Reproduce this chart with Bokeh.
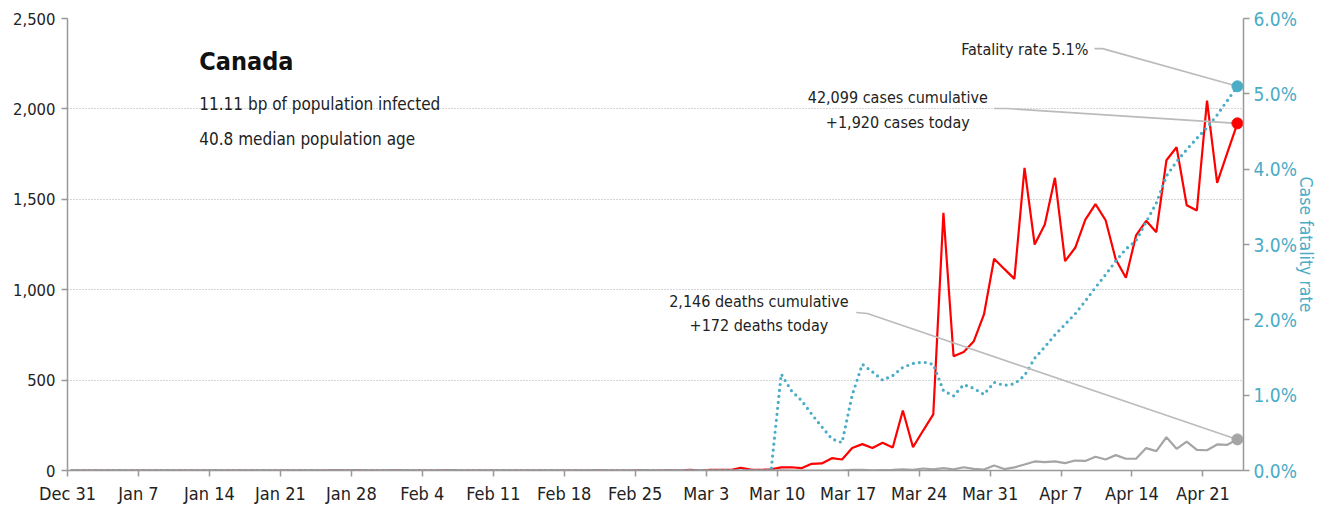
from bokeh.plotting import figure
from bokeh.models import Range1d, LinearAxis, FixedTicker, NumeralTickFormatter, PrintfTickFormatter
from bokeh.embed import file_html
from bokeh.resources import INLINE
from bokeh.core.properties import value

# ---------------- data ----------------
# day index 0 = Dec 31 2019 ... 115 = Apr 24 2020
days = list(range(116))
tick_days = [0, 7, 14, 21, 28, 35, 42, 49, 56, 63, 70, 77, 84, 91, 98, 105, 112]
tick_labels = ["Dec 31", "Jan 7", "Jan 14", "Jan 21", "Jan 28", "Feb 4", "Feb 11", "Feb 18",
               "Feb 25", "Mar 3", "Mar 10", "Mar 17", "Mar 24", "Mar 31", "Apr 7", "Apr 14", "Apr 21"]

daily_cases = [
    0, 0, 0, 0, 0, 0, 0, 0, 0, 0,
    0, 0, 0, 0, 0, 0, 0, 0, 0, 0,
    0, 0, 0, 0, 0, 0, 1, 0, 1, 0,
    0, 0, 1, 0, 0, 0, 0, 1, 0, 0,
    0, 0, 0, 0, 0, 0, 0, 0, 0, 0,
    0, 0, 1, 0, 0, 0, 1, 0, 0, 1,
    0, 4, 0, 3, 3, 3, 15, 5, 3, 6,
    17, 18, 13, 37, 39, 68, 61, 124, 146, 124,
    153, 127, 332, 129, 221, 310, 1425, 632, 656, 715,
    863, 1171, 1115, 1060, 1674, 1250, 1361, 1619, 1158, 1232,
    1388, 1473, 1384, 1167, 1066, 1300, 1381, 1318, 1716, 1788,
    1467, 1438, 2046, 1591, 1757, 1920,
]

daily_deaths = [0] * 70 + [
    1, 0, 0, 0, 0, 0, 0, 3, 4, 1,
    2, 3, 6, 4, 11, 6, 13, 6, 18, 9,
    5, 28, 8, 17, 33, 50, 46, 50, 41, 55,
    53, 76, 61, 85, 65, 65, 124, 107, 184, 120,
    160, 114, 112, 144, 142, 172,
]

cfr_pct = [0.0] * 70 + [
    1.28, 1.06, 0.93, 0.75, 0.58, 0.42, 0.37, 1.00, 1.41, 1.31,
    1.20, 1.26, 1.37, 1.42, 1.44, 1.41, 1.06, 0.99, 1.14, 1.09,
    1.01, 1.17, 1.13, 1.15, 1.26, 1.49, 1.64, 1.80, 1.94, 2.08,
    2.25, 2.43, 2.60, 2.78, 2.94, 3.05, 3.30, 3.55, 3.91, 4.10,
    4.26, 4.41, 4.55, 4.72, 4.91, 5.10,
]

title = "Canada"
subtitle_lines = ["11.11 bp of population infected", "40.8 median population age"]
cases_note = ["42,099 cases cumulative", "+1,920 cases today"]
deaths_note = ["2,146 deaths cumulative", "+172 deaths today"]
cfr_note = "Fatality rate 5.1%"
right_axis_title = "Case fatality rate"

# ---------------- style ----------------
FONT = "DejaVu Sans Condensed, DejaVu Sans, sans-serif"
RED = "#ff0000"
GRAY = "#a5a5a5"
TEAL = "#4bacc6"
AXIS = "#999999"
LEADER = "#bbbbbb"
X_OFFSET = 0.4  # points sit a little after the midnight tick

xs = [d + X_OFFSET for d in days]

p = figure(width=1323, height=507, output_backend="svg", toolbar_location=None,
           x_range=Range1d(0, 116), y_range=Range1d(0, 2500),
           min_border_left=67, min_border_right=80, min_border_top=18, min_border_bottom=37)
p.outline_line_color = None
p.background_fill_color = "white"
p.border_fill_color = "white"
p.extra_y_ranges = {"cfr": Range1d(0, 6)}

# axes
p.xaxis.ticker = FixedTicker(ticks=tick_days)
p.xaxis.major_label_overrides = {d: l for d, l in zip(tick_days, tick_labels)}
p.yaxis.ticker = FixedTicker(ticks=[0, 500, 1000, 1500, 2000, 2500])
p.yaxis.formatter = NumeralTickFormatter(format="0,0")
for ax in (p.xaxis[0], p.yaxis[0]):
    ax.axis_line_color = AXIS
    ax.axis_line_width = 1.5
    ax.major_tick_line_color = AXIS
    ax.major_tick_line_width = 1.5
    ax.major_tick_in = 0
    ax.major_tick_out = 6
    ax.minor_tick_line_color = None
    ax.major_label_text_font = FONT
    ax.major_label_text_color = "#222222"
p.xaxis.major_label_text_font_size = "18px"
p.yaxis.major_label_text_font_size = "16.5px"
p.xaxis.major_label_standoff = 6
p.yaxis.major_label_standoff = 6

rax = LinearAxis(y_range_name="cfr", ticker=FixedTicker(ticks=[0, 1, 2, 3, 4, 5, 6]),
                 formatter=PrintfTickFormatter(format="%.1f%%"),
                 axis_label=right_axis_title)
rax.axis_line_color = AXIS
rax.axis_line_width = 1.5
rax.major_tick_line_color = AXIS
rax.major_tick_line_width = 1.5
rax.major_tick_in = 0
rax.major_tick_out = 6
rax.minor_tick_line_color = None
rax.major_label_text_font = FONT
rax.major_label_text_font_size = "19px"
rax.major_label_text_color = TEAL
rax.major_label_standoff = 4
rax.axis_label_text_font = FONT
rax.axis_label_text_font_size = "17.5px"
rax.axis_label_text_font_style = "normal"
rax.axis_label_text_color = TEAL
rax.axis_label_standoff = -4
p.add_layout(rax, "right")

p.xgrid.grid_line_color = None
p.ygrid.grid_line_color = "#aaaaaa"
p.ygrid.grid_line_dash = "1 2"
p.ygrid.grid_line_width = 1

# series
p.line(xs, daily_cases, line_color=RED, line_width=2.2)
p.line(xs, daily_deaths, line_color=GRAY, line_width=2.2)
p.line(xs, cfr_pct, line_color=TEAL, line_width=3.2, line_dash="0 6", line_cap="round",
       y_range_name="cfr")

# leader lines to last points
lx = xs[-1]
p.line([101.3, 102.1, lx], [5.60, 5.60, cfr_pct[-1]], line_color=LEADER, line_width=1.6,
       y_range_name="cfr")
p.line([91.4, 92.7, lx], [2002, 2002, daily_cases[-1]], line_color=LEADER, line_width=1.6)
p.line([77.8, 78.9, lx], [874, 868, daily_deaths[-1]], line_color=LEADER, line_width=1.6)

p.scatter([lx], [daily_cases[-1]], size=11, color=RED)
p.scatter([lx], [daily_deaths[-1]], size=11, color=GRAY)
p.scatter([lx], [cfr_pct[-1]], size=11, color=TEAL, y_range_name="cfr")

# texts
p.text([13.0], [2262], text=[title], text_font=value(FONT), text_font_size="25px",
       text_font_style="bold", text_color="#111111", text_baseline="middle", text_align="left")
p.text([13.0, 13.0], [2025, 1836], text=subtitle_lines, text_font=value(FONT),
       text_font_size="17px", text_color="#222222", text_baseline="middle", text_align="left")
p.text([100.7], [2329], text=[cfr_note], text_font=value(FONT), text_font_size="16px",
       text_color="#222222", text_baseline="middle", text_align="right")
p.text([81.9, 81.9], [2063, 1925], text=cases_note, text_font=value(FONT), text_font_size="16px",
       text_color="#222222", text_baseline="middle", text_align="center")
p.text([68.2, 68.2], [935, 802], text=deaths_note, text_font=value(FONT), text_font_size="16px",
       text_color="#222222", text_baseline="middle", text_align="center")

open("out.html", "w").write(file_html(p, INLINE))
